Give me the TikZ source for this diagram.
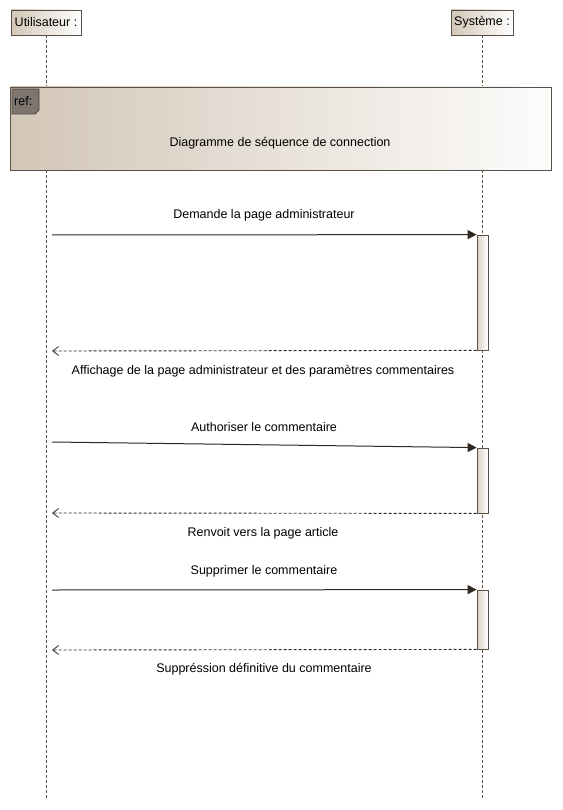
\documentclass[tikz,border=0pt]{standalone}
\usepackage{fontspec}
\setmainfont{Liberation Sans}
\usetikzlibrary{arrows.meta}
\definecolor{edgec}{HTML}{5A5048}
\definecolor{linec}{HTML}{302820}
\definecolor{tanc}{HTML}{D2C6B6}
\definecolor{tagc}{HTML}{7D756E}
\tikzset{
  lbl/.style={font=\fontsize{12.5}{14}\selectfont, inner sep=0pt, text=black},
  headbox/.style={draw=edgec, line width=0.8pt, left color=tanc, right color=white, inner sep=2pt, minimum height=25pt, font=\fontsize{12.5}{14}\selectfont},
  lifeline/.style={draw=edgec, dashed, dash pattern=on 3pt off 2pt, line width=0.8pt},
  actbar/.style={draw=edgec, line width=0.8pt, left color=tanc!80, right color=white, minimum width=11pt, inner sep=0pt},
  syncmsg/.style={draw=linec, line width=1pt, -{Triangle[length=9pt,width=9pt]}},
  retmsg/.style={draw=linec, line width=0.9pt, dashed, dash pattern=on 3pt off 2pt, -{Straight Barb[length=6pt,width=9pt,line width=0.8pt,open]}},
}
\begin{document}
\begin{tikzpicture}[x=1pt,y=-1pt]
\useasboundingbox (0,0) rectangle (562,810);
\fill[white] (0,0) rectangle (562,810);
% header boxes
\node[headbox, minimum width=70pt] (user) at (46,22.5) {Utilisateur :};
\node[headbox, minimum width=62pt] (sys) at (482,22.5) {Système :};
\coordinate (userend) at (46,800);
\coordinate (sysend) at (482,800);
\draw[lifeline] (user.south) -- (userend);
\draw[lifeline] (sys.south) -- (sysend);
% ref frame
\node[draw=edgec, line width=0.8pt, left color=tanc, right color=white!96!tanc, minimum width=541pt, minimum height=83pt, inner sep=0pt] (ref) at (280.5,128.5) {};
\draw[draw=edgec!80!black, fill=tagc, line width=0.8pt] (12,89) -- (39,89) -- (39,110) -- (35,114) -- (12,114) -- cycle;
\node[lbl, anchor=west] (reftag) at (14,101) {ref:};
\node[lbl] (reftext) at (280,143) {Diagramme de séquence de connection};
% activation bars
\node[actbar, minimum height=115pt] (act1) at (482.5,292.5) {};
\node[actbar, minimum height=65pt] (act2) at (482.5,480.5) {};
\node[actbar, minimum height=59pt] (act3) at (482.5,619.5) {};
% message endpoints
\coordinate (u1) at (52,235);
\coordinate (r1) at (52,351);
\coordinate (u2) at (52,442);
\coordinate (r2) at (52,513);
\coordinate (u3) at (52,590);
\coordinate (r3) at (52,650);
% messages
\draw[syncmsg] (u1) -- (act1.north west);
\draw[retmsg] (act1.south west) -- (r1);
\draw[syncmsg] (u2) -- (act2.north west);
\draw[retmsg] (act2.south west) -- (r2);
\draw[syncmsg] (u3) -- (act3.north west);
\draw[retmsg] (act3.south west) -- (r3);
% labels
\node[lbl] (m1) at (264,215) {Demande la page administrateur};
\node[lbl] (m1r) at (263,371) {Affichage de la page administrateur et des paramètres commentaires};
\node[lbl] (m2) at (264,427) {Authoriser le commentaire};
\node[lbl] (m2r) at (263,533) {Renvoit vers la page article};
\node[lbl] (m3) at (264,571) {Supprimer le commentaire};
\node[lbl] (m3r) at (264,669) {Suppréssion définitive du commentaire};
\end{tikzpicture}
\end{document}
